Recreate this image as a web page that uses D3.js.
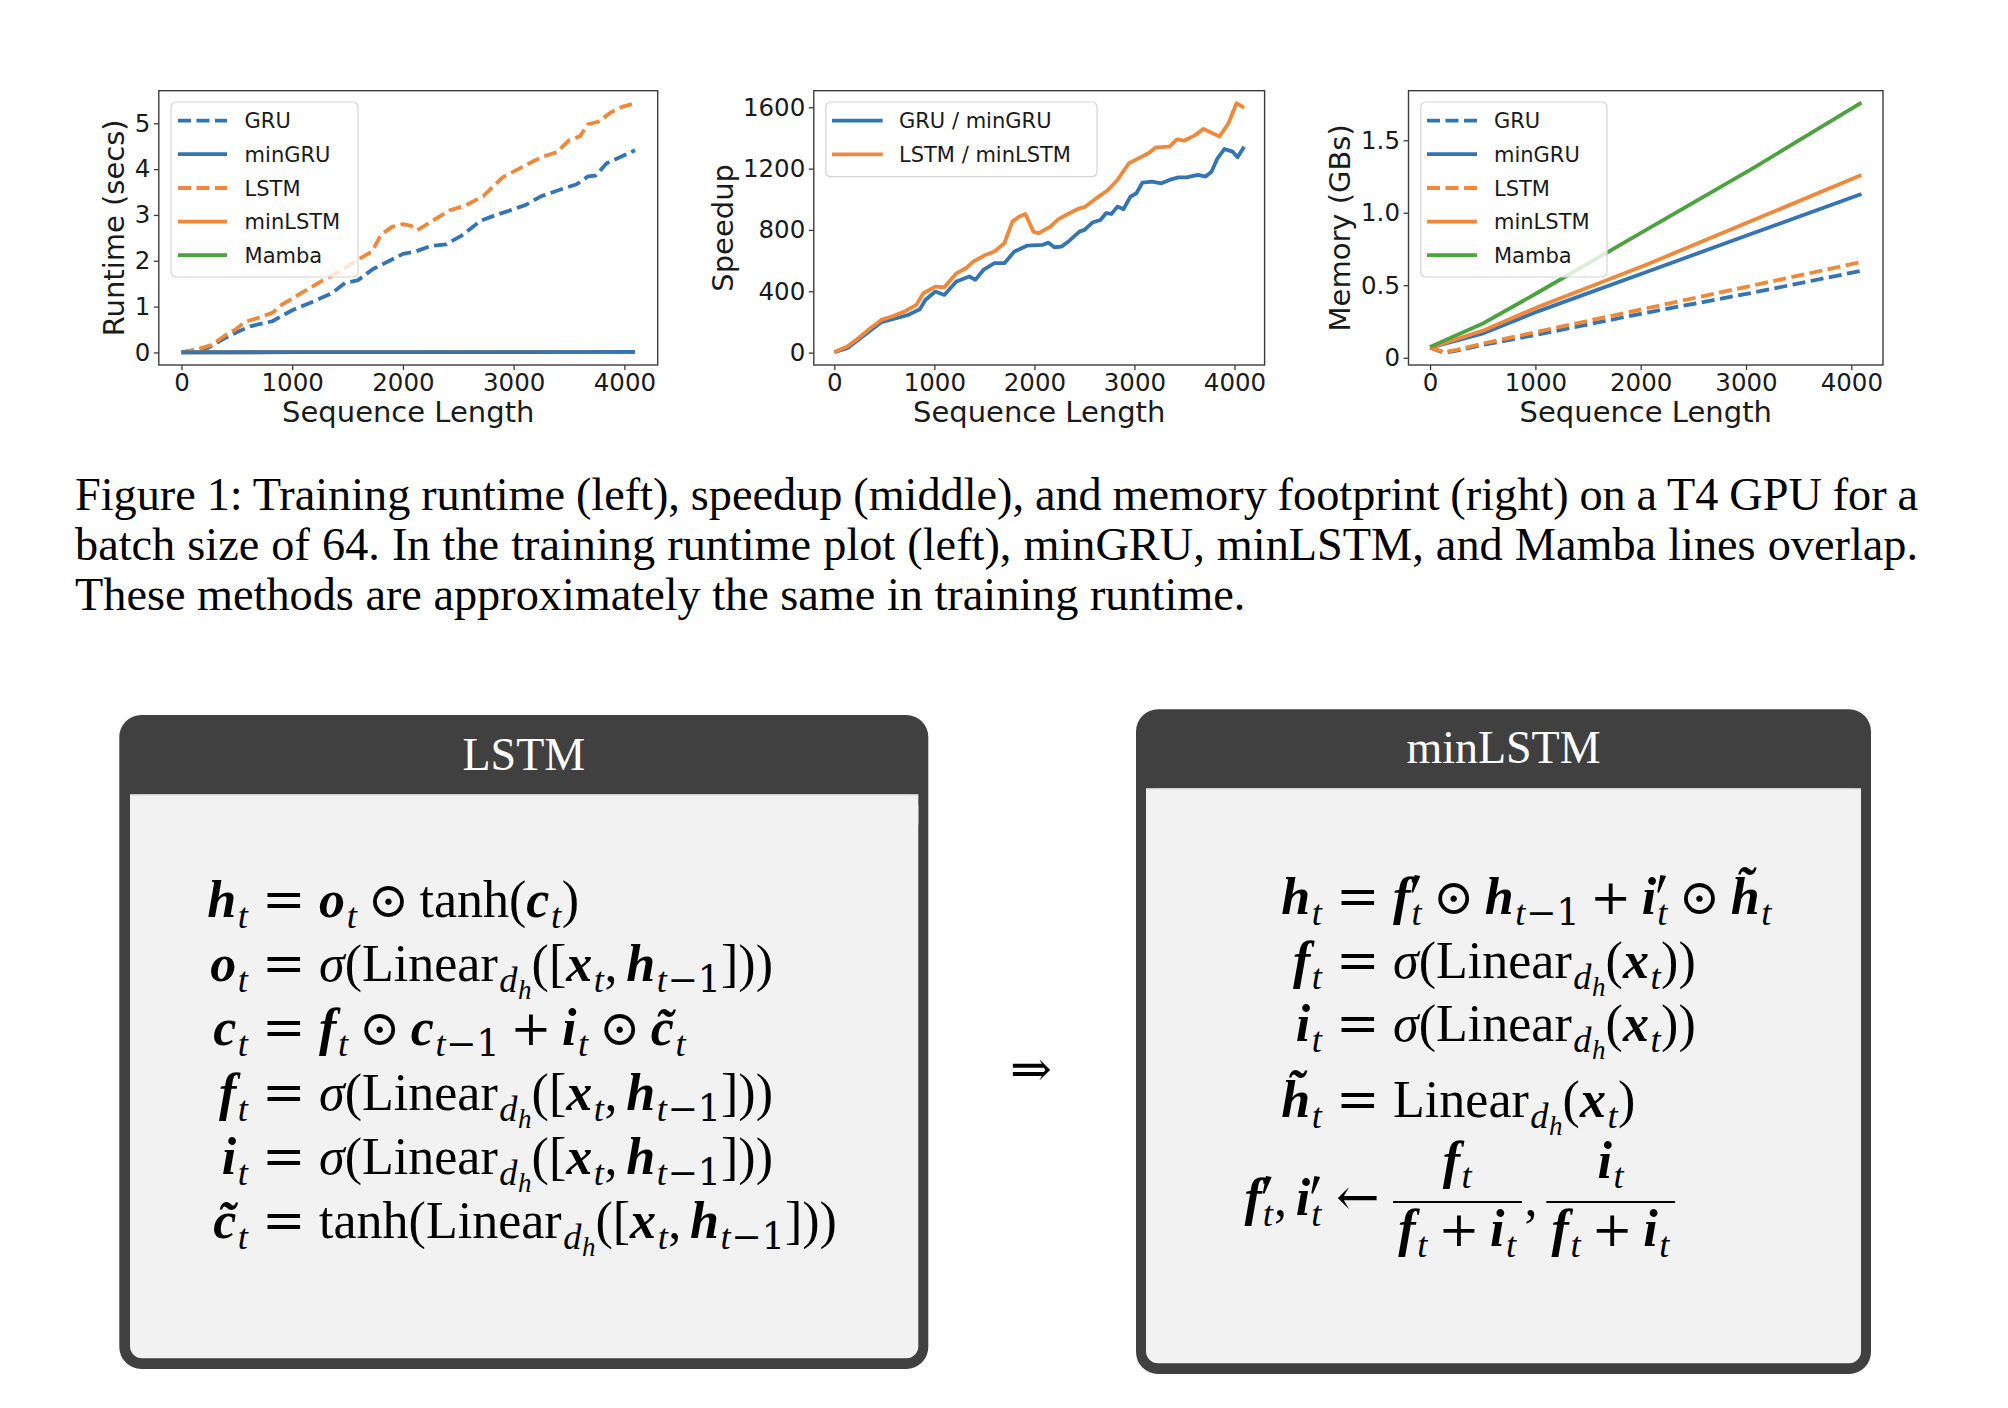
<!DOCTYPE html>
<html>
<head>
<meta charset="utf-8">
<script src="https://cdn.jsdelivr.net/npm/d3@7"></script>
<style>body{margin:0;background:#fff}</style>
</head>
<body>
<svg id="fig" width="2008" height="1408"></svg>
<script>
// ---- data: [sequence length, value] ----
const seqTicks = [0, 1000, 2000, 3000, 4000];
const runtimeTicks = [0, 1, 2, 3, 4, 5];
const speedupTicks = [0, 400, 800, 1200, 1600];
const memoryTicks = [0, 0.5, 1.0, 1.5];

const gruRuntime = [[0,0],[240,0.1],[384,0.3],[480,0.42],[620,0.57],[820,0.68],[1000,0.92],[1170,1.09],[1350,1.28],[1480,1.52],[1590,1.57],[1730,1.82],[1870,1.99],[2000,2.15],[2110,2.2],[2250,2.32],[2390,2.36],[2530,2.55],[2700,2.87],[2840,3.0],[2980,3.11],[3110,3.22],[3250,3.41],[3430,3.56],[3570,3.67],[3670,3.84],[3740,3.86],[3840,4.13],[3950,4.25],[4096,4.41]];
const lstmRuntime = [[0,0],[130,0.06],[270,0.16],[400,0.38],[480,0.49],[580,0.67],[700,0.76],[826,0.87],[900,1.03],[1030,1.22],[1170,1.42],[1310,1.62],[1450,1.8],[1590,2.02],[1720,2.2],[1800,2.56],[1900,2.74],[2000,2.8],[2075,2.76],[2130,2.67],[2280,2.89],[2420,3.1],[2560,3.2],[2730,3.42],[2900,3.82],[3080,4.05],[3250,4.26],[3390,4.37],[3500,4.63],[3600,4.72],[3670,4.98],[3760,5.03],[3880,5.24],[3980,5.36],[4096,5.44]];
const minGruRuntime = [[0,0.002],[1024,0.004],[2048,0.006],[3072,0.008],[4096,0.01]];
const minLstmRuntime = [[0,0.002],[1024,0.004],[2048,0.007],[3072,0.009],[4096,0.011]];
const mambaRuntime = [[0,0.003],[1024,0.005],[2048,0.008],[3072,0.01],[4096,0.013]];

const gruSpeedup = [[0,2],[130,28],[280,104],[470,198],[620,224],[740,246],[855,283],[910,343],[1010,398],[1100,376],[1220,463],[1350,496],[1410,474],[1490,539],[1600,583],[1700,583],[1800,659],[1930,698],[2080,702],[2140,717],[2200,687],[2270,691],[2350,730],[2450,789],[2500,800],[2580,848],[2660,865],[2715,909],[2770,904],[2830,952],[2890,935],[2960,1017],[3020,1039],[3080,1109],[3175,1115],[3270,1104],[3350,1126],[3440,1143],[3520,1143],[3635,1159],[3710,1148],[3770,1180],[3830,1267],[3900,1328],[3980,1311],[4030,1274],[4096,1343]];
const lstmSpeedup = [[0,4],[130,39],[240,93],[360,159],[470,213],[590,239],[700,267],[820,311],[890,387],[1010,430],[1100,426],[1220,517],[1315,550],[1390,593],[1510,637],[1600,659],[1700,713],[1780,854],[1850,887],[1910,904],[1990,789],[2040,778],[2160,822],[2240,870],[2350,909],[2450,941],[2500,948],[2620,1007],[2730,1057],[2830,1126],[2945,1235],[3040,1267],[3140,1300],[3215,1339],[3350,1343],[3425,1391],[3500,1383],[3600,1415],[3690,1459],[3850,1409],[3940,1496],[4020,1626],[4096,1598]];

const gruMemory = [[0,0.07],[128,0.035],[256,0.05],[512,0.09],[1024,0.16],[2048,0.31],[3072,0.45],[4096,0.6]];
const minGruMemory = [[0,0.07],[512,0.17],[1024,0.32],[2048,0.59],[3072,0.86],[4096,1.13]];
const lstmMemory = [[0,0.07],[128,0.04],[256,0.055],[512,0.1],[1024,0.18],[2048,0.34],[3072,0.5],[4096,0.66]];
const minLstmMemory = [[0,0.07],[512,0.19],[1024,0.35],[2048,0.64],[3072,0.95],[4096,1.26]];
const mambaMemory = [[0,0.075],[512,0.24],[1024,0.45],[2048,0.88],[3072,1.31],[4096,1.76]];

const captionLines = [
  "Figure 1: Training runtime (left), speedup (middle), and memory footprint (right) on a T4 GPU for a",
  "batch size of 64. In the training runtime plot (left), minGRU, minLSTM, and Mamba lines overlap.",
  "These methods are approximately the same in training runtime."
];

// ---- equation tokens ----
const v = s => ['v', s], s = t => ['s', t], sr = t => ['sr', t], ss = t => ['ss', t],
      r = t => ['r', t], it = t => ['i', t], bin = t => ['bin', t], pun = t => ['pun', t], pr = t => ['p', t];
const linH = [it('σ'), r('(Linear'), s('d'), ss('h'), r('(['), v('x'), s('t'), pun(','), v('h'), s('t'), sr('−1'), r(']))')];
const lstmEqs = [
  [[v('h'), s('t')], '=', [v('o'), s('t'), bin('⊙'), r('tanh('), v('c'), s('t'), r(')')]],
  [[v('o'), s('t')], '=', linH],
  [[v('c'), s('t')], '=', [v('f'), s('t'), bin('⊙'), v('c'), s('t'), sr('−1'), bin('+'), v('i'), s('t'), bin('⊙'), v('c\u0303'), s('t')]],
  [[v('f'), s('t')], '=', linH],
  [[v('i'), s('t')], '=', linH],
  [[v('c\u0303'), s('t')], '=', [r('tanh(Linear'), s('d'), ss('h'), r('(['), v('x'), s('t'), pun(','), v('h'), s('t'), sr('−1'), r(']))')]]
];
const linX = [it('σ'), r('(Linear'), s('d'), ss('h'), r('('), v('x'), s('t'), r('))')];
const denom = [v('f'), s('t'), bin('+'), v('i'), s('t')];
const minLstmEqs = [
  [[v('h'), s('t')], '=', [v('f'), pr('t'), bin('⊙'), v('h'), s('t'), sr('−1'), bin('+'), v('i'), pr('t'), bin('⊙'), v('h\u0303'), s('t')]],
  [[v('f'), s('t')], '=', linX],
  [[v('i'), s('t')], '=', linX],
  [[v('h\u0303'), s('t')], '=', [r('Linear'), s('d'), ss('h'), r('('), v('x'), s('t'), r(')')]],
  [[v('f'), pr('t'), pun(','), v('i'), pr('t')], '←', [['frac', [v('f'), s('t')], denom], pun(','), ['frac', [v('i'), s('t')], denom]]]
];

const BLUE = '#3574b2', ORANGE = '#f0883b', GREEN = '#4ca23e';
const SANS = "'DejaVu Sans', sans-serif";
const SERIF = "'Liberation Serif', 'DejaVu Serif', serif";
const OPS = "'DejaVu Serif', serif";

const svg = d3.select('#fig');
svg.append('rect').attr('width', 2008).attr('height', 1408).attr('fill', '#fff');

const charts = [
  {
    frame: [158.8, 90.7, 657.7, 365], yDomain: [-0.275, 5.712], yTicks: runtimeTicks, yFmt: d3.format('d'),
    ylabel: 'Runtime (secs)', ylabelX: 124,
    series: [
      {name: 'GRU', data: gruRuntime, color: BLUE, dash: true},
      {name: 'LSTM', data: lstmRuntime, color: ORANGE, dash: true},
      {name: 'Mamba', data: mambaRuntime, color: GREEN},
      {name: 'minLSTM', data: minLstmRuntime, color: ORANGE},
      {name: 'minGRU', data: minGruRuntime, color: BLUE}
    ],
    legendOrder: ['GRU', 'minGRU', 'LSTM', 'minLSTM', 'Mamba'],
    legend: {box: [171, 102, 358, 277], h: [178, 227], tx: 244.6, rows: [120.7, 154.2, 188, 221.7, 255.2]}
  },
  {
    frame: [813.8, 90.7, 1264.6, 365], yDomain: [-81, 1708], yTicks: speedupTicks, yFmt: d3.format('d'),
    ylabel: 'Speedup', ylabelX: 733,
    series: [
      {name: 'GRU / minGRU', data: gruSpeedup, color: BLUE},
      {name: 'LSTM / minLSTM', data: lstmSpeedup, color: ORANGE}
    ],
    legendOrder: ['GRU / minGRU', 'LSTM / minLSTM'],
    legend: {box: [825.8, 102, 1097, 176.7], h: [832, 882.7], tx: 899, rows: [120.7, 154.3]}
  },
  {
    frame: [1408.5, 90.7, 1883, 365], yDomain: [-0.05, 1.842], yTicks: memoryTicks, yFmt: d => d === 0 ? '0' : d3.format('.1f')(d),
    ylabel: 'Memory (GBs)', ylabelX: 1350,
    series: [
      {name: 'GRU', data: gruMemory, color: BLUE, dash: true},
      {name: 'minGRU', data: minGruMemory, color: BLUE},
      {name: 'LSTM', data: lstmMemory, color: ORANGE, dash: true},
      {name: 'minLSTM', data: minLstmMemory, color: ORANGE},
      {name: 'Mamba', data: mambaMemory, color: GREEN}
    ],
    legendOrder: ['GRU', 'minGRU', 'LSTM', 'minLSTM', 'Mamba'],
    legend: {box: [1420.8, 102, 1607, 277], h: [1427, 1477], tx: 1494, rows: [120.7, 154.2, 188, 221.7, 255.2]}
  }
];

const LW = 3.8, DASH = '13,5.5';

charts.forEach(c => {
  const [x0, y0, x1, y1] = c.frame;
  const g = svg.append('g');
  const x = d3.scaleLinear().domain([-204.8, 4300.8]).range([x0, x1]);
  const y = d3.scaleLinear().domain(c.yDomain).range([y1, y0]);

  const line = d3.line().x(d => x(d[0])).y(d => y(d[1]));
  c.series.forEach(sr => {
    g.append('path').datum(sr.data).attr('d', line)
      .attr('fill', 'none').attr('stroke', sr.color).attr('stroke-width', LW)
      .attr('stroke-linejoin', 'round')
      .attr('stroke-dasharray', sr.dash ? DASH : null);
  });

  g.append('rect').attr('x', x0).attr('y', y0).attr('width', x1 - x0).attr('height', y1 - y0)
    .attr('fill', 'none').attr('stroke', '#3c3c3c').attr('stroke-width', 1.4);

  const gx = g.append('g').attr('transform', `translate(0,${y1})`)
    .call(d3.axisBottom(x).tickValues(seqTicks).tickSize(5).tickPadding(3.5).tickFormat(d3.format('d')));
  const gy = g.append('g').attr('transform', `translate(${x0},0)`)
    .call(d3.axisLeft(y).tickValues(c.yTicks).tickSize(5).tickPadding(3.5).tickFormat(c.yFmt));
  [gx, gy].forEach(a => {
    a.select('.domain').remove();
    a.selectAll('.tick line').attr('stroke', '#3c3c3c').attr('stroke-width', 1.3);
    a.selectAll('.tick text').attr('font-size', 24.5).attr('font-family', SANS).attr('fill', '#1a1a1a');
  });

  g.append('text').attr('x', (x0 + x1) / 2).attr('y', 422).attr('text-anchor', 'middle')
    .attr('font-family', SANS).attr('font-size', 29).attr('fill', '#1a1a1a').text('Sequence Length');
  g.append('text').attr('transform', `translate(${c.ylabelX},${(y0 + y1) / 2}) rotate(-90)`)
    .attr('text-anchor', 'middle').attr('font-family', SANS).attr('font-size', 29).attr('fill', '#1a1a1a')
    .text(c.ylabel);

  // legend
  const L = c.legend;
  g.append('rect').attr('x', L.box[0]).attr('y', L.box[1]).attr('width', L.box[2] - L.box[0])
    .attr('height', L.box[3] - L.box[1]).attr('rx', 5)
    .attr('fill', '#fff').attr('fill-opacity', 0.8).attr('stroke', '#d4d4d4').attr('stroke-width', 1.2);
  c.legendOrder.forEach((name, i) => {
    const sr = c.series.find(d => d.name === name);
    const cy = L.rows[i];
    g.append('line').attr('x1', L.h[0]).attr('x2', L.h[1]).attr('y1', cy).attr('y2', cy)
      .attr('stroke', sr.color).attr('stroke-width', LW).attr('stroke-dasharray', sr.dash ? DASH : null);
    g.append('text').attr('x', L.tx).attr('y', cy + 7.6).attr('font-family', SANS).attr('font-size', 21)
      .attr('fill', '#1a1a1a').text(name);
  });
});

// ---- caption ----
const capG = svg.append('g');
const capLeft = 75, capRight = 1918, capBase = [510, 560, 610];
const probe = capG.append('text').attr('font-family', SERIF).attr('font-size', 46).text(captionLines[2]);
const capSize = 46 * (1246 - capLeft) / probe.node().getComputedTextLength();
probe.remove();
captionLines.forEach((ln, i) => {
  const t = capG.append('text').attr('x', capLeft).attr('y', capBase[i])
    .attr('font-family', SERIF).attr('font-size', capSize).attr('fill', '#000').text(ln);
  if (i < 2) {
    const gaps = ln.split(' ').length - 1;
    let ws = 0;
    for (let k = 0; k < 4; k++) {
      const w = t.node().getBBox().width;
      ws += (capRight - capLeft - w) / gaps;
      t.attr('word-spacing', ws);
    }
  }
});

// ---- equation boxes ----
function drawBox(o, inner, title, titleBase) {
  const [ox0, oy0, ox1, oy1] = o;
  const [ix0, iy0, ix1, iy1] = inner;
  svg.append('rect').attr('x', ox0).attr('y', oy0).attr('width', ox1 - ox0).attr('height', oy1 - oy0)
    .attr('rx', 22).attr('fill', '#404040');
  svg.append('rect').attr('x', ix0).attr('y', iy0).attr('width', ix1 - ix0).attr('height', iy1 - iy0)
    .attr('rx', 12).attr('fill', '#f2f2f2');
  svg.append('rect').attr('x', ix0).attr('y', iy0).attr('width', ix1 - ix0).attr('height', 30).attr('fill', '#f2f2f2');
  svg.append('line').attr('x1', ix0).attr('x2', ix1).attr('y1', iy0 + 0.5).attr('y2', iy0 + 0.5)
    .attr('stroke', '#c8c8c8').attr('stroke-width', 1);
  svg.append('text').attr('x', (ox0 + ox1) / 2).attr('y', titleBase).attr('text-anchor', 'middle')
    .attr('font-family', SERIF).attr('font-size', 46).attr('fill', '#fff').text(title);
}
drawBox([119.3, 715, 928.3, 1369], [130, 794.3, 918.3, 1358.3], 'LSTM', 770);
drawBox([1136, 709.3, 1871, 1374], [1146, 788.3, 1861, 1363.3], 'minLSTM', 763.3);

// one tspan per token, placed absolutely inside a single <text>
function span(txt, str, x, y, size, style, weight, fam) {
  const t = txt.append('tspan').attr('x', x).attr('y', y).attr('font-size', size)
    .attr('font-family', fam || SERIF).attr('font-style', style).attr('font-weight', weight).text(str);
  return t.node().getComputedTextLength();
}
function newText(parent) {
  return parent.append('text').attr('fill', '#000').attr('font-family', SERIF);
}
// prime mark drawn as a small tapered stroke
function prime(parent, x, S) {
  const p = [[0.08, -0.75], [0.19, -0.73], [0.05, -0.41], [0.02, -0.42]]
    .map(([a, b]) => [x + a * S, b * S]);
  parent.append('path').attr('d', d3.line()(p) + 'Z').attr('fill', '#000');
  return 0.2 * S;
}
function renderTokens(parent, txt, tokens, S, x) {
  tokens.forEach(tk => {
    const [type, str] = tk;
    if (type === 'v') x += span(txt, str, x, 0, S, 'italic', 'bold');
    else if (type === 'r') x += span(txt, str, x, 0, S, 'normal', 'normal');
    else if (type === 'i') x += span(txt, str, x, 0, S, 'italic', 'normal');
    else if (type === 's') x += span(txt, str, x + 0.03 * S, 0.21 * S, 0.7 * S, 'italic', 'normal') + 0.04 * S;
    else if (type === 'sr') x += span(txt, str, x, 0.21 * S, 0.7 * S, 'normal', 'normal', str.startsWith('−') ? OPS : SERIF);
    else if (type === 'ss') x += span(txt, str, x, 0.34 * S, 0.52 * S, 'italic', 'normal');
    else if (type === 'p') {
      const wp = prime(parent, x, S);
      const wq = span(txt, str, x + 0.02 * S, 0.22 * S, 0.7 * S, 'italic', 'normal');
      x += Math.max(wp, wq + 0.04 * S);
    } else if (type === 'bin') {
      x += 0.2 * S;
      x += span(txt, str, x, 0, 0.95 * S, 'normal', 'normal', OPS);
      x += 0.2 * S;
    } else if (type === 'pun') {
      x += span(txt, str, x, 0, S, 'normal', 'normal') + 0.17 * S;
    } else if (type === 'frac') {
      const tn = newText(parent), td = newText(parent);
      const wn = renderTokens(parent, tn, tk[1], S, 0), wd = renderTokens(parent, td, tk[2], S, 0);
      const w = Math.max(wn, wd) + 0.2 * S;
      tn.attr('transform', `translate(${x + (w - wn) / 2},${-0.72 * S})`);
      td.attr('transform', `translate(${x + (w - wd) / 2},${0.6 * S})`);
      parent.append('line').attr('x1', x).attr('x2', x + w).attr('y1', -0.25 * S).attr('y2', -0.25 * S)
        .attr('stroke', '#000').attr('stroke-width', 2);
      x += w + 0.05 * S;
    }
  });
  return x;
}
function drawEquations(eqs, eqX, bases, S) {
  eqs.forEach((eq, i) => {
    const [lhs, rel, rhs] = eq;
    const gap = 0.26 * S;
    const row = svg.append('g').attr('transform', `translate(0,${bases[i]})`);
    const lg = row.append('g');
    const wl = renderTokens(lg, newText(lg), lhs, S, 0);
    lg.attr('transform', `translate(${eqX - gap - wl},0)`);
    const rt = newText(row);
    const wm = span(rt, rel, eqX, 0, S, 'normal', 'normal', OPS);
    const hasFrac = rhs.some(tk => tk[0] === 'frac');
    renderTokens(row, hasFrac ? newText(row) : rt, rhs, S, eqX + wm + gap);
  });
}
drawEquations(lstmEqs, 262, [917, 981, 1045, 1110, 1174, 1238], 52);
drawEquations(minLstmEqs, 1336, [914, 978, 1041, 1117, 1215], 52);

svg.append('text').attr('x', 1031).attr('y', 1086).attr('text-anchor', 'middle')
  .attr('font-family', OPS).attr('font-size', 50).attr('fill', '#000').text('⇒');
</script>
</body>
</html>
